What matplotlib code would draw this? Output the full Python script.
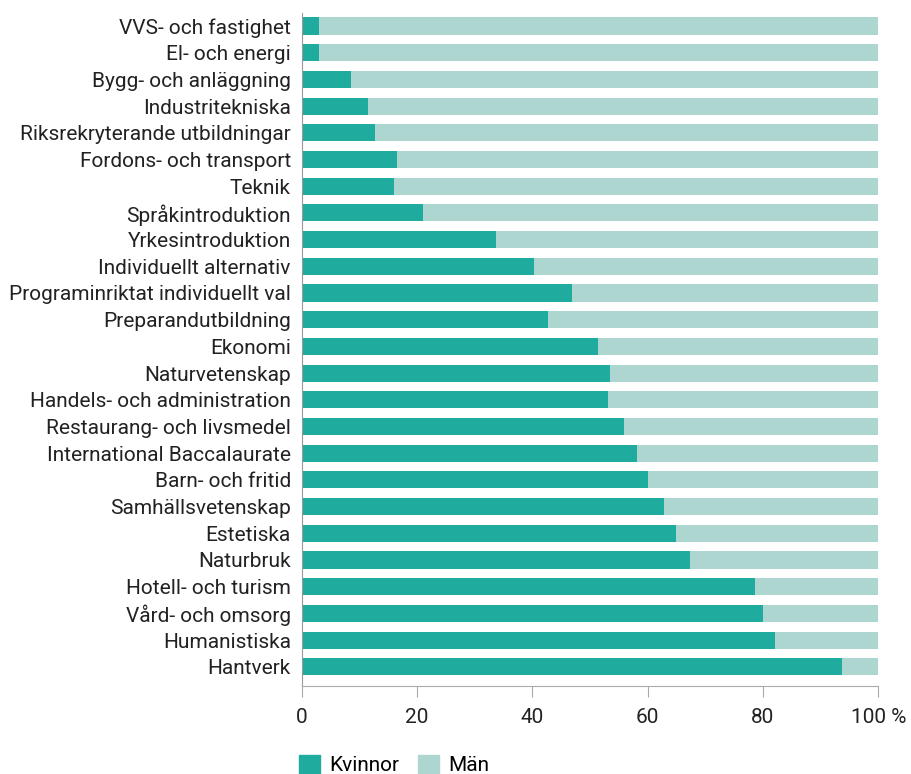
import numpy as np
import matplotlib
matplotlib.use("Agg")
from matplotlib import pyplot as plt
from matplotlib.patches import Patch

#Program names, top to bottom
programs = ['VVS- och fastighet', 'El- och energi', 'Bygg- och anläggning',
            'Industritekniska', 'Riksrekryterande utbildningar',
            'Fordons- och transport', 'Teknik', 'Språkintroduktion',
            'Yrkesintroduktion', 'Individuellt alternativ',
            'Programinriktat individuellt val', 'Preparandutbildning',
            'Ekonomi', 'Naturvetenskap', 'Handels- och administration',
            'Restaurang- och livsmedel', 'International Baccalaurate',
            'Barn- och fritid', 'Samhällsvetenskap', 'Estetiska', 'Naturbruk',
            'Hotell- och turism', 'Vård- och omsorg', 'Humanistiska', 'Hantverk']

#Share of women, percent
kvinnor = np.array([3.0, 3.0, 8.5, 11.5, 12.7, 16.5, 16.0, 21.0, 33.7, 40.3,
                    46.9, 42.7, 51.4, 53.5, 53.1, 55.9, 58.2, 60.1, 62.8, 64.9,
                    67.4, 78.6, 80.0, 82.1, 93.7])
man = 100 - kvinnor

ticks = [0, 20, 40, 60, 80, 100]
tick_labels = ['0', '20', '40', '60', '80', '100 %']

dark = '#1fab9d'
light = '#aed6d1'

plt.rcParams['font.family'] = ['Roboto', 'DejaVu Sans']
fs = 15.0

fig = plt.figure(figsize=(9.12, 7.74), dpi=100)
ax = fig.add_axes([0.331, 0.1137, 0.632, 0.87])

y = np.arange(len(programs))
ax.barh(y, kvinnor, height=0.64, color=dark, label='Kvinnor')
ax.barh(y, man, left=kvinnor, height=0.64, color=light, label='Män')

ax.set_ylim(24.72, -0.5)
ax.set_xlim(0, 100)
ax.set_yticks(y)
ax.set_yticklabels(programs, fontsize=fs, color='#222222')
ax.tick_params(axis='y', length=0, pad=8)
ax.set_xticks(ticks)
ax.set_xticklabels(tick_labels, fontsize=fs, color='#222222')
ax.tick_params(axis='x', length=8, color='#aaaaaa', pad=8)

for s in ['top', 'right']:
    ax.spines[s].set_visible(False)
ax.spines['left'].set_color('#999999')
ax.spines['bottom'].set_color('#aaaaaa')

handles = [Patch(color=dark, label='Kvinnor'), Patch(color=light, label='Män')]
fig.legend(handles=handles, loc='lower left', bbox_to_anchor=(0.307, -0.026),
           ncol=2, frameon=False, fontsize=fs, handlelength=1.0,
           handleheight=1.0, handletextpad=0.45, columnspacing=0.9)

fig.savefig('out.png', dpi=100)
